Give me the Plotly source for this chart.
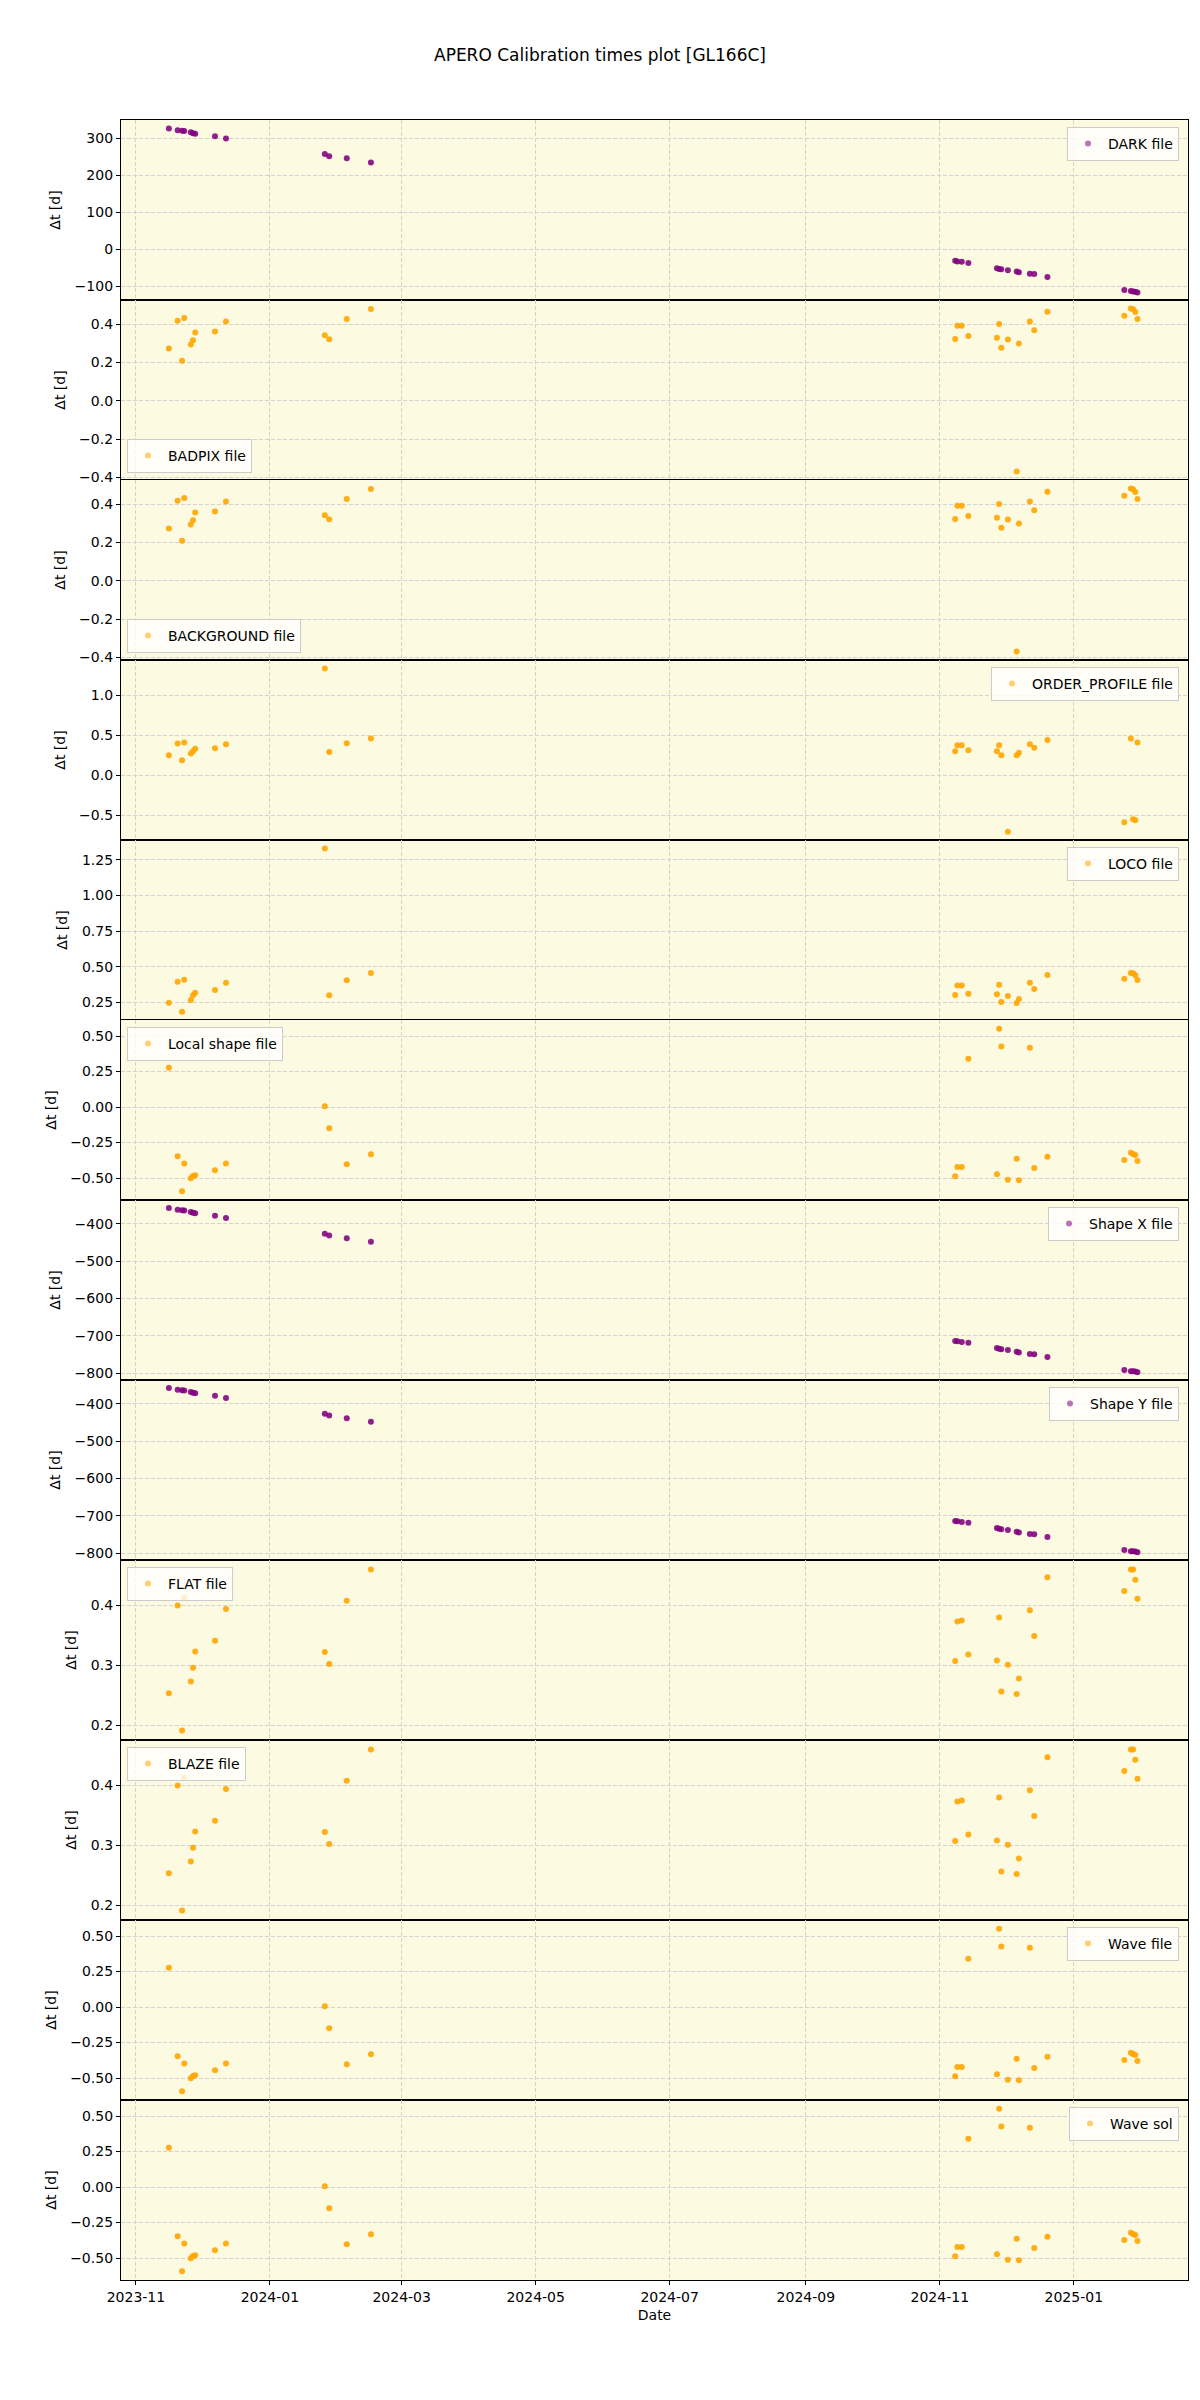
import plotly.graph_objects as go
from plotly.subplots import make_subplots

# ---------------- data ----------------
dates = [
    "2023-11-16", "2023-11-20", "2023-11-22", "2023-11-23", "2023-11-26", "2023-11-27",
    "2023-11-28", "2023-12-07", "2023-12-12",
    "2024-01-26", "2024-01-28", "2024-02-05", "2024-02-16",
    "2024-11-08", "2024-11-09", "2024-11-11", "2024-11-14", "2024-11-27", "2024-11-28",
    "2024-11-29", "2024-12-02", "2024-12-06", "2024-12-07", "2024-12-12", "2024-12-14",
    "2024-12-20",
    "2025-01-24", "2025-01-27", "2025-01-28", "2025-01-29", "2025-01-30",
]

dark = [326, 321, 320, 319, 316, 313, 312, 305, 299,
        257, 251, 246, 234,
        -31, -33, -34, -37, -51, -53, -54, -57, -60, -62, -66, -67, -75,
        -110, -113, -114, -115, -117]

badpix = [0.273, 0.419, 0.209, 0.433, 0.294, 0.317, 0.357, 0.362, 0.414,
          0.343, 0.322, 0.428, 0.480,
          0.323, 0.393, 0.393, 0.339, 0.330, 0.402, 0.278, 0.320, -0.369, 0.299, 0.414, 0.369, 0.466,
          0.445, 0.483, 0.478, 0.464, 0.428]

background = [0.273, 0.419, 0.209, 0.433, 0.294, 0.317, 0.357, 0.362, 0.414,
              0.343, 0.322, 0.428, 0.480,
              0.323, 0.393, 0.393, 0.339, 0.330, 0.402, 0.278, 0.320, -0.369, 0.299, 0.414, 0.369, 0.466,
              0.445, 0.483, 0.478, 0.464, 0.428]

order_profile = [0.25, 0.396, 0.188, 0.408, 0.27, 0.30, 0.33, 0.338, 0.388,
                 1.333, 0.29, 0.40, 0.458,
                 0.30, 0.375, 0.375, 0.313, 0.30, 0.375, 0.25, -0.704, 0.25, 0.279, 0.388, 0.342, 0.438,
                 -0.588, 0.458, -0.55, -0.563, 0.408]

loco = [0.248, 0.395, 0.184, 0.409, 0.266, 0.299, 0.318, 0.337, 0.388,
        1.330, 0.299, 0.405, 0.456,
        0.302, 0.369, 0.369, 0.311, 0.306, 0.374, 0.252, 0.294, 0.245, 0.273, 0.388, 0.344, 0.442,
        0.416, 0.456, 0.454, 0.440, 0.407]

local_shape = [0.277, -0.347, -0.594, -0.397, -0.502, -0.486, -0.481, -0.446, -0.397,
               0.005, -0.150, -0.404, -0.333,
               -0.488, -0.423, -0.423, 0.340, -0.474, 0.552, 0.427, -0.512, -0.364, -0.516, 0.418, -0.430, -0.350,
               -0.373, -0.322, -0.331, -0.338, -0.380]

shape_x = [-357, -362, -363, -364, -368, -370, -371, -378, -384,
           -426, -431, -438, -448,
           -714, -715, -717, -719, -733, -735, -736, -738, -743, -745, -749, -750, -757,
           -792, -795, -795, -796, -798]

shape_y = [-357, -362, -363, -364, -368, -370, -371, -378, -384,
           -426, -431, -438, -448,
           -714, -715, -717, -719, -733, -735, -736, -738, -743, -745, -749, -750, -757,
           -792, -795, -795, -796, -798]

flat = [0.253, 0.400, 0.191, 0.413, 0.273, 0.296, 0.323, 0.341, 0.394,
        0.322, 0.302, 0.408, 0.460,
        0.307, 0.373, 0.375, 0.318, 0.308, 0.380, 0.256, 0.301, 0.252, 0.278, 0.392, 0.349, 0.447,
        0.424, 0.460, 0.460, 0.443, 0.411]

blaze = [0.253, 0.400, 0.191, 0.413, 0.273, 0.296, 0.323, 0.341, 0.394,
         0.322, 0.302, 0.408, 0.460,
         0.307, 0.373, 0.375, 0.318, 0.308, 0.380, 0.256, 0.301, 0.252, 0.278, 0.392, 0.349, 0.447,
         0.424, 0.460, 0.460, 0.443, 0.411]

wave_file = [0.277, -0.347, -0.594, -0.397, -0.502, -0.486, -0.481, -0.446, -0.397,
             0.005, -0.150, -0.404, -0.333,
             -0.488, -0.423, -0.423, 0.340, -0.474, 0.552, 0.427, -0.512, -0.364, -0.516, 0.418, -0.430, -0.350,
             -0.373, -0.322, -0.331, -0.338, -0.380]

wave_sol = [0.277, -0.347, -0.594, -0.397, -0.502, -0.486, -0.481, -0.446, -0.397,
            0.005, -0.150, -0.404, -0.333,
            -0.488, -0.423, -0.423, 0.340, -0.474, 0.552, 0.427, -0.512, -0.364, -0.516, 0.418, -0.430, -0.350,
            -0.373, -0.322, -0.331, -0.338, -0.380]

labels = ["DARK file", "BADPIX file", "BACKGROUND file", "ORDER_PROFILE file", "LOCO file",
          "Local shape file", "Shape X file", "Shape Y file", "FLAT file", "BLAZE file",
          "Wave file", "Wave sol"]
series = [dark, badpix, background, order_profile, loco, local_shape,
          shape_x, shape_y, flat, blaze, wave_file, wave_sol]
kinds = ["purple", "orange", "orange", "orange", "orange", "orange",
         "purple", "purple", "orange", "orange", "orange", "orange"]
legend_loc = ["ur", "ll", "ll", "ur", "ur", "ul", "ur", "ur", "ul", "ul", "ur", "ur"]

y_ranges = [[-137, 349], [-0.414, 0.527], [-0.414, 0.527], [-0.808, 1.4375], [0.126, 1.390],
            [-0.655, 0.613], [-818.8, -335.6], [-818.8, -335.6], [0.175, 0.476], [0.175, 0.476],
            [-0.655, 0.613], [-0.655, 0.613]]
y_ticks = [[-100, 0, 100, 200, 300], [-0.4, -0.2, 0.0, 0.2, 0.4], [-0.4, -0.2, 0.0, 0.2, 0.4],
           [-0.5, 0.0, 0.5, 1.0], [0.25, 0.5, 0.75, 1.0, 1.25],
           [-0.5, -0.25, 0.0, 0.25, 0.5], [-800, -700, -600, -500, -400], [-800, -700, -600, -500, -400],
           [0.2, 0.3, 0.4], [0.2, 0.3, 0.4],
           [-0.5, -0.25, 0.0, 0.25, 0.5], [-0.5, -0.25, 0.0, 0.25, 0.5]]
y_formats = ["d", ".1f", ".1f", ".1f", ".2f", ".2f", "d", "d", ".1f", ".1f", ".2f", ".2f"]

x_ticks = ["2023-11-01", "2024-01-01", "2024-03-01", "2024-05-01", "2024-07-01",
           "2024-09-01", "2024-11-01", "2025-01-01"]

# ---------------- styling ----------------
FONT = "DejaVu Sans"
PT_COLORS = {"purple": "rgba(128,0,128,0.88)", "orange": "rgba(255,165,0,0.9)"}
LEG_COLORS = {"purple": "rgba(128,0,128,0.55)", "orange": "rgba(255,165,0,0.55)"}
GRID_DASH = "4px,2px"

W, H = 1200, 2400
ML, MR, MT, MB = 121, 12, 120, 120
PH = H - MT - MB
PW = W - ML - MR
n = len(labels)
panel_h = PH / n

fig = make_subplots(rows=n, cols=1, shared_xaxes=True, vertical_spacing=0)

for i in range(n):
    legname = "legend" if i == 0 else f"legend{i + 1}"
    fig.add_trace(go.Scatter(
        x=dates, y=series[i], mode="markers",
        marker=dict(color=PT_COLORS[kinds[i]], size=6, line=dict(width=0)),
        showlegend=False, hoverinfo="x+y"), row=i + 1, col=1)
    fig.add_trace(go.Scatter(
        x=[None], y=[None], mode="markers", name=labels[i],
        marker=dict(color=LEG_COLORS[kinds[i]], size=6, line=dict(width=0)),
        showlegend=True, legend=legname), row=i + 1, col=1)

    top_px = panel_h * i
    bot_px = panel_h * (i + 1)
    loc = legend_loc[i]
    if loc[0] == "u":
        ly = 1 - (top_px + 7) / PH
        yanchor = "top"
    else:
        ly = 1 - (bot_px - 7) / PH
        yanchor = "bottom"
    if loc[1] == "r":
        lx = 1 - 9 / PW
        xanchor = "right"
    else:
        lx = 6 / PW
        xanchor = "left"
    fig.update_layout({legname: dict(
        x=lx, y=ly, xanchor=xanchor, yanchor=yanchor,
        bgcolor="rgba(255,255,255,0.8)", bordercolor="#cccccc", borderwidth=1,
        font=dict(family=FONT, size=14, color="black"),
        itemsizing="trace", tracegroupgap=0)})

    fig.update_yaxes(
        range=y_ranges[i], tickvals=y_ticks[i], tickformat=y_formats[i],
        showgrid=True, gridcolor="#d3d3d3", griddash=GRID_DASH, gridwidth=1,
        zeroline=False, showline=True, mirror=True, linecolor="black", linewidth=1.3,
        ticks="outside", ticklen=4, tickcolor="black", tickwidth=1,
        tickfont=dict(family=FONT, size=14, color="black"),
        title=dict(text="Δt [d]", font=dict(family=FONT, size=14, color="black"), standoff=10),
        row=i + 1, col=1)

    last = (i == n - 1)
    fig.update_xaxes(
        type="date", range=["2023-10-25 05:00", "2025-02-22"],
        tickvals=x_ticks, tickformat="%Y-%m",
        showgrid=True, gridcolor="#d3d3d3", griddash=GRID_DASH, gridwidth=1,
        zeroline=False, showline=True, mirror=True, linecolor="black", linewidth=1.3,
        ticks="outside" if last else "", ticklen=4, tickcolor="black",
        showticklabels=last,
        tickfont=dict(family=FONT, size=14, color="black"),
        row=i + 1, col=1)

fig.update_xaxes(title=dict(text="Date", font=dict(family=FONT, size=14, color="black"), standoff=6),
                 row=n, col=1)

fig.update_layout(
    width=W, height=H,
    margin=dict(l=ML, r=MR, t=MT, b=MB),
    paper_bgcolor="white",
    plot_bgcolor="#FCFAE0",
    font=dict(family=FONT, size=14, color="black"),
    title=dict(text="APERO Calibration times plot [GL166C]", x=0.5, xanchor="center",
               y=1 - 55 / H, yanchor="middle",
               font=dict(family=FONT, size=17, color="black")),
)

fig.write_html("out.html")
